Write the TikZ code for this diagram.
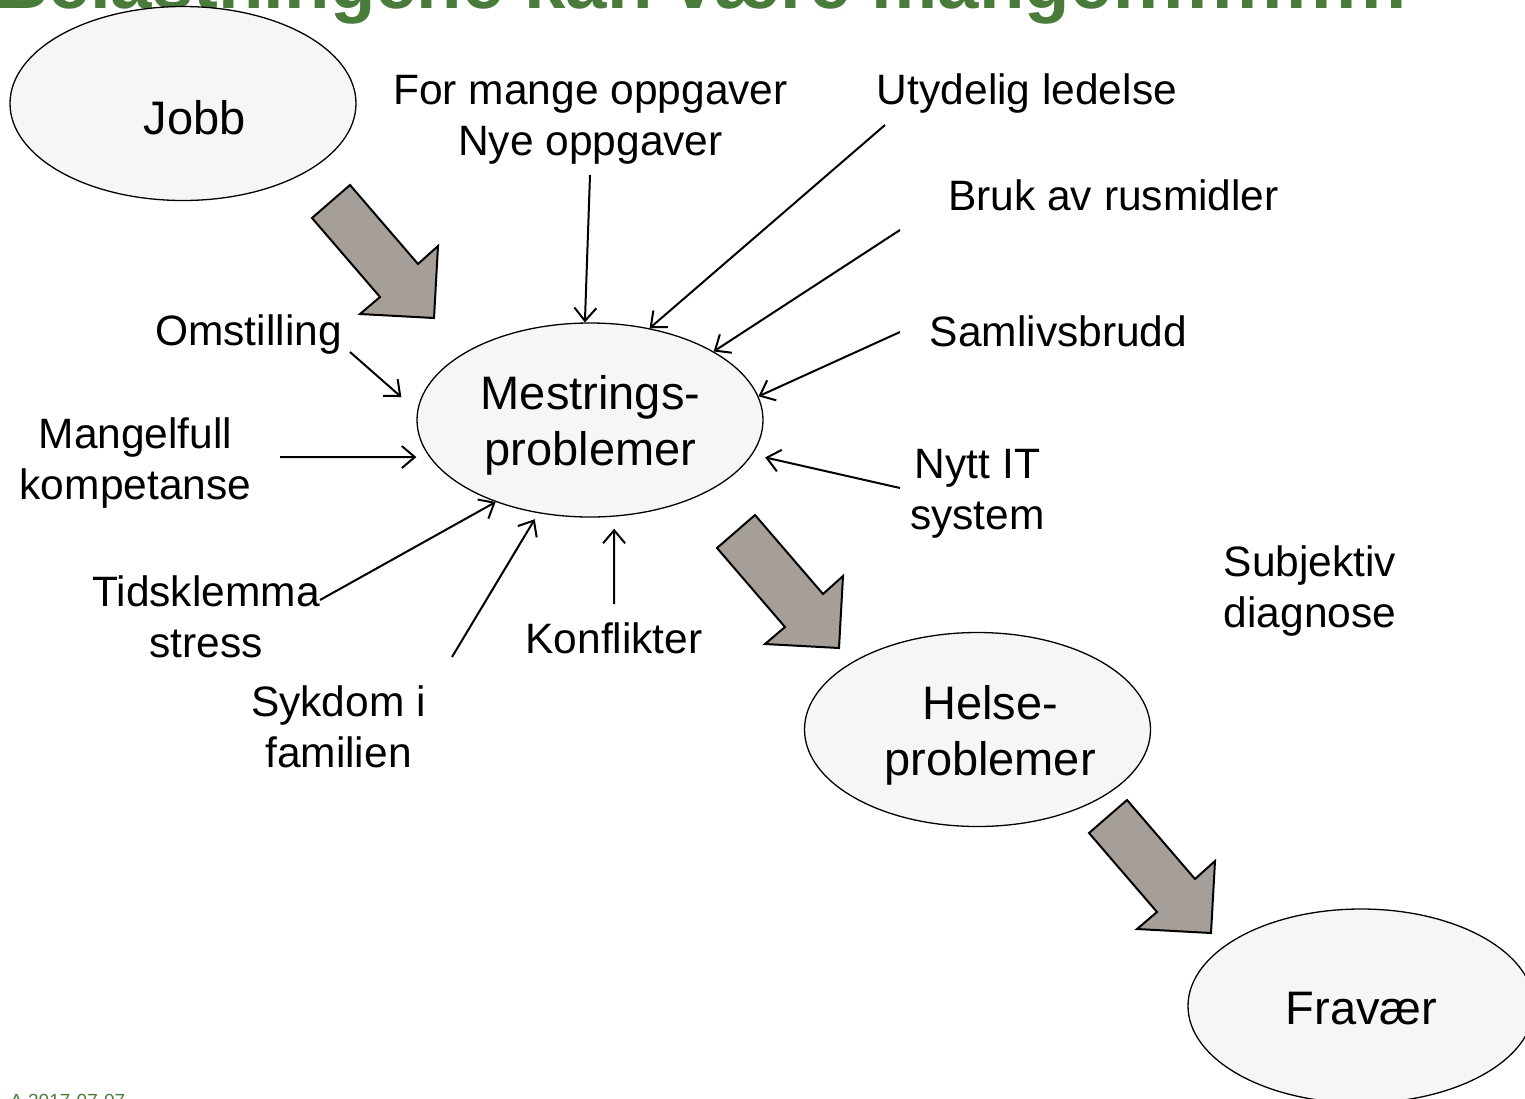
\documentclass[tikz,border=0pt]{standalone}
\usepackage{fontspec}
\setmainfont{Liberation Sans}
\usetikzlibrary{shapes.geometric,arrows.meta,calc}
\definecolor{titlegreen}{RGB}{73,123,58}
\definecolor{bubblefill}{RGB}{247,246,244}
\definecolor{arrowgray}{RGB}{166,158,152}

\tikzset{
  bubble/.style={ellipse,draw,line width=1.3pt,fill=bubblefill,
    minimum width=346pt,minimum height=194pt,inner sep=0pt},
  bubbletext/.style={inner sep=0pt,align=center,anchor=north,
    font=\fontsize{47}{56}\selectfont},
  lbl/.style={inner sep=0pt,align=center,anchor=north,
    font=\fontsize{42.5}{51}\selectfont},
  conn/.style={line width=2pt,
    -{Straight Barb[length=13pt,width=22pt,line width=2pt]}},
  bigarrow/.style={draw,line width=2pt,line join=miter,fill=arrowgray},
  pics/blockarrow/.style={code={
    \draw[bigarrow] (0,0) -- (38,-33) -- (106,46) -- (126,28)
      -- (122,100) -- (48,96) -- (68,79) -- cycle;}}
}

\begin{document}
\begin{tikzpicture}[x=1pt,y=-1pt]
\useasboundingbox (0,0) rectangle (1525,1098);
\clip (0,0) rectangle (1525,1098);

% heading and footer
\node[anchor=base west,inner sep=0pt,text=titlegreen,
  font=\bfseries\fontsize{74.4}{80}\selectfont] (title) at (-5,8)
  {Belastningene kan være mange!!!!!!!!!!!!};
\node[anchor=base west,inner sep=0pt,text=titlegreen,
  font=\fontsize{19}{22}\selectfont] (foot) at (10,1107) {A 2017-07-07};

% the four stages
\node[bubble] (jobb) at (183,103.5) {};
\node[bubble] (mest) at (590,420) {};
\node[bubble] (helse) at (977.5,729.5) {};
\node[bubble] (frav) at (1361,1006) {};

\node[bubbletext] (jobb-t) at (194.5,100.3) {Jobb};
\node[bubbletext] (mest-t) at (590.5,375.3) {Mestrings-\\problemer};
\node[bubbletext] (helse-t) at (990,685.3) {Helse-\\problemer};
\node[bubbletext] (frav-t) at (1361.5,991.7) {Fravær};

% block arrows between the stages
\pic at (312,218) {blockarrow};
\pic at (717,548) {blockarrow};
\pic at (1089,833) {blockarrow};

% contributing factors
\node[lbl] (formange) at (590.5,74.8) {For mange oppgaver\\Nye oppgaver};
\node[lbl] (utyd) at (1027,73.6) {Utydelig ledelse};
\node[lbl] (bruk) at (1113.5,179.6) {Bruk av rusmidler};
\node[lbl] (samliv) at (1058.5,315.6) {Samlivsbrudd};
\node[lbl] (omst) at (248.5,314.6) {Omstilling};
\node[lbl] (mangel) at (135.5,417.6) {Mangelfull\\kompetanse};
\node[lbl] (tids) at (206,575.6) {Tidsklemma\\stress};
\node[lbl] (sykdom) at (338.5,685.6) {Sykdom i\\familien};
\node[lbl] (konf) at (614,622.6) {Konflikter};
\node[lbl] (nytt) at (977.5,448.8) {Nytt IT\\system};
\node[lbl] (subj) at (1310,545.6) {Subjektiv\\diagnose};

% connector start points
\coordinate (s-formange) at (590,175);
\coordinate (s-utyd) at (885,125);
\coordinate (s-bruk) at (900,230);
\coordinate (s-samliv) at (900,332);
\coordinate (s-nytt) at (900,488);
\coordinate (s-konf) at (614,604);
\coordinate (s-sykdom) at (452,657);
\coordinate (s-tids) at (320,600);
\coordinate (s-mangel) at (280,457);
\coordinate (s-omst) at (350,352);

\draw[conn] (s-formange) -- (mest.93);
\draw[conn] (s-utyd) -- (mest.57);
\draw[conn] (s-bruk) -- (mest.29);
\draw[conn] (s-samliv) -- (mest.8);
\draw[conn,shorten >=13pt] (s-nytt) -- (mest.-12);
\draw[conn,shorten >=12pt] (s-konf) -- (mest.-76);
\draw[conn,shorten >=7pt] (s-sykdom) -- (mest.-119);
\draw[conn] (s-tids) -- (mest.-139);
\draw[conn,shorten >=13pt] (s-mangel) -- (mest.-167);
\draw[conn,shorten >=21pt] (s-omst) -- (mest.177);
\end{tikzpicture}
\end{document}
